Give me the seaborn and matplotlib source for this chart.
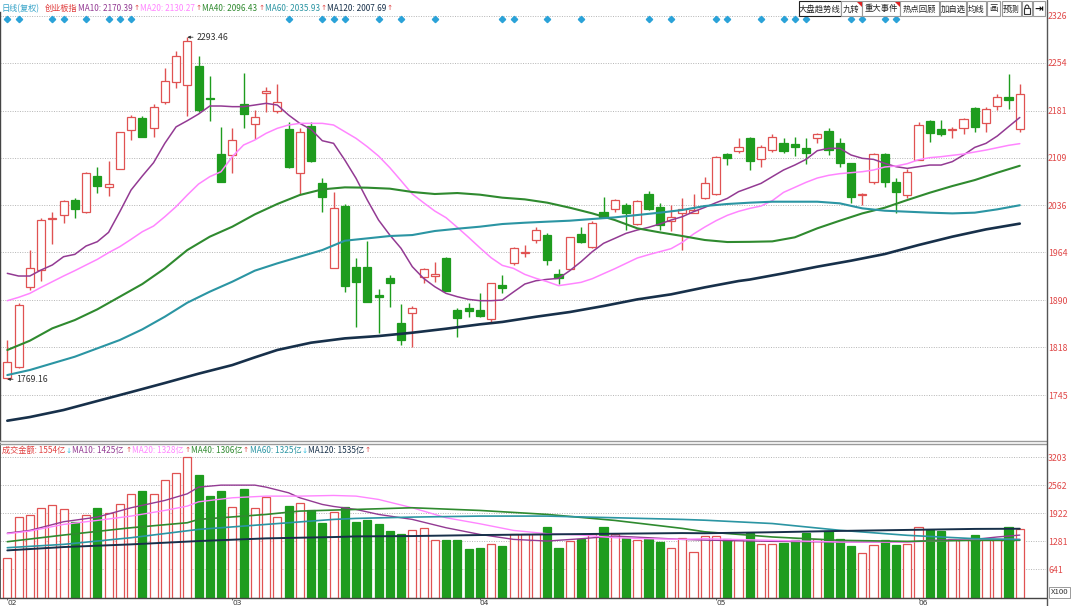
import numpy as np
import pandas as pd
import matplotlib
matplotlib.use("Agg")
import matplotlib.pyplot as plt
import matplotlib.patches as mpatches
import matplotlib.transforms as mtrans
from matplotlib.lines import Line2D
import seaborn as sns

# ---------------- data ----------------
opens = [1770.5, 1787.4, 1910, 1936.6, 2015, 2021, 2044, 2025, 2081, 2064,
         2091, 2151, 2169, 2154, 2194, 2225, 2220, 2249, 2201, 2114.4,
         2113, 2191, 2161, 2208, 2181, 2152, 2084.8, 2158, 2070.5, 1939.6,
         2034.7, 1941.7, 1941.7, 1898, 1923.8, 1855.8, 1870, 1926, 1927.8, 1955.5,
         1875, 1877.8, 1875, 1861, 1913, 1946.8, 1962, 1982.6, 1990, 1930,
         1938.6, 1991.8, 1972.4, 2026, 2029.6, 2036, 2006.6, 2053, 2032.6, 2012,
         2024.5, 2024.5, 2046.4, 2053, 2114.4, 2119.5, 2138.4, 2106.7, 2120.5, 2130.7,
         2129.7, 2123, 2138.4, 2150, 2131.8, 2100, 2051, 2071, 2114.4, 2072,
         2051, 2106, 2165.5, 2152, 2151.2, 2153.7, 2185.4, 2162.4, 2188, 2202.3,
         2152.2]
highs = [1830, 1886.5, 1967, 2016, 2026, 2044, 2047, 2087, 2095, 2104,
         2148.6, 2174, 2172, 2191, 2247, 2273, 2293.46, 2265, 2234.5, 2156,
         2154, 2239, 2182, 2217.6, 2222, 2164, 2154, 2164, 2077, 2055.6,
         2038, 1955.5, 1981.5, 1908, 1929, 1884.5, 1881, 1940, 1949.4, 1957,
         1878, 1886.5, 1900.8, 1917, 1929, 1972.4, 1975, 2002, 1994, 1937.6,
         1986.7, 2003, 2012, 2049, 2045, 2039, 2044, 2058, 2038.8, 2036,
         2046.4, 2053, 2078.6, 2112, 2115.4, 2138.4, 2140, 2128, 2145, 2138.4,
         2140, 2138.4, 2146, 2153.7, 2138.4, 2101, 2055, 2115.4, 2115.4, 2077,
         2091, 2164, 2166.5, 2166.5, 2156, 2169, 2187, 2187, 2206.4, 2237,
         2222]
lows = [1769.16, 1787, 1906, 1920, 1977, 2008, 2017, 2023.5, 2054, 2050,
        2091, 2136, 2140, 2141, 2191, 2215, 2172, 2179, 2165, 2072,
        2085, 2154, 2137, 2179, 2177, 2092.4, 2053, 2102.7, 2026, 1939.6,
        1903.4, 1849.7, 1888, 1839.5, 1880, 1821.6, 1818, 1916, 1918.7, 1904.4,
        1834.4, 1864, 1864, 1857, 1900.8, 1944, 1957, 1977.5, 1945, 1915,
        1938.6, 1977.5, 1969.8, 2016, 2026, 1998, 2005.5, 2028.6, 1998, 1997,
        1968, 2024.5, 2045.4, 2051.6, 2097.5, 2115.4, 2089.9, 2095, 2118, 2116.5,
        2111.4, 2098.6, 2130.7, 2112.9, 2094, 2038.8, 2036, 2068.4, 2064.3, 2023.5,
        2046.4, 2105, 2133.3, 2142, 2138.4, 2144.5, 2148.6, 2148.6, 2181.9, 2183,
        2148.6]
closes = [1796, 1883, 1940, 2013, 2016.5, 2042, 2029.5, 2086, 2066, 2069,
          2147.6, 2171.6, 2140, 2187, 2227, 2264.6, 2288, 2182, 2199, 2072,
          2136, 2175, 2170.6, 2210.5, 2193.6, 2095, 2148.6, 2103.7, 2048, 2031,
          1912, 1918.7, 1888, 1895.7, 1916, 1829, 1877.8, 1938.8, 1931, 1904.4,
          1862.5, 1873.7, 1866, 1917, 1908.5, 1969.8, 1964.7, 1997.9, 1952, 1923.8,
          1986.7, 1979.5, 2008, 2018, 2044, 2024.5, 2042.9, 2030, 2005.5, 2018.3,
          2029.6, 2028.6, 2069.4, 2110, 2108.3, 2125.6, 2104.2, 2124.6, 2140, 2119.5,
          2125.6, 2116.5, 2144.5, 2120.5, 2101, 2049, 2053, 2114, 2072, 2055.6,
          2087.3, 2158.9, 2147, 2145, 2152.2, 2167.5, 2155.3, 2183, 2202.3, 2197,
          2206.4]
volumes = [909, 1845, 1890, 2034, 2102, 2027, 1722, 1890, 2049, 1935,
           2125, 2353, 2429, 2353, 2687, 2839, 3212, 2793, 2307, 2436,
           2071, 2474, 2034, 2292, 1845, 2095, 2155, 1996, 1707, 1958,
           2064, 1722, 1760, 1684, 1517, 1456, 1540, 1586, 1312, 1305,
           1305, 1100, 1138, 1229, 1176, 1442, 1456, 1442, 1608, 1123,
           1290, 1328, 1442, 1608, 1442, 1350, 1305, 1328, 1267, 1123,
           1366, 1047, 1404, 1397, 1343, 1305, 1474, 1228, 1213, 1251,
           1320, 1481, 1343, 1512, 1343, 1174, 1020, 1190, 1305, 1190,
           1228, 1612, 1535, 1520, 1343, 1343, 1420, 1305, 1305, 1612,
           1554]

ma10 = [1931.5, 1927.4, 1927.4, 1936.6, 1944.3, 1957.0, 1960.6, 1973.4, 1980.0, 1994.3,
        2026.0, 2059.2, 2080.7, 2101.1, 2130.8, 2156.0, 2165.5, 2175.7, 2188.0, 2188.0,
        2187.0, 2187.0, 2189.5, 2192.1, 2189.5, 2174.2, 2161.4, 2152.2, 2134.8, 2130.8,
        2105.2, 2077.1, 2043.9, 2013.2, 1990.2, 1969.8, 1941.7, 1923.8, 1911.0, 1900.8,
        1895.7, 1891.6, 1889.6, 1889.6, 1890.6, 1903.0, 1915.1, 1920.2, 1922.3, 1923.8,
        1935.6, 1949.4, 1964.7, 1977.5, 1985.1, 1992.8, 1997.9, 2002.0, 2007.1, 2013.2,
        2018.3, 2026.0, 2032.6, 2039.8, 2046.4, 2056.7, 2063.0, 2069.4, 2079.7, 2089.9,
        2097.5, 2106.2, 2119.5, 2123.1, 2123.1, 2112.9, 2107.8, 2106.2, 2100.1, 2095.0,
        2092.4, 2095.0, 2097.5, 2097.5, 2102.7, 2112.9, 2124.6, 2130.8, 2142.0, 2156.3,
        2170.4]
ma20 = [1889.6, 1894.7, 1900.8, 1910.0, 1918.7, 1927.4, 1935.6, 1944.3, 1952.9, 1963.2,
        1972.4, 1983.6, 1995.3, 2004.0, 2018.3, 2033.7, 2051.6, 2068.4, 2079.7, 2087.3,
        2110.3, 2128.2, 2135.9, 2146.1, 2153.8, 2158.9, 2161.4, 2161.4, 2161.4, 2158.9,
        2148.6, 2138.4, 2125.6, 2111.3, 2093.5, 2073.5, 2053.1, 2039.8, 2027.0, 2016.8,
        2002.0, 1986.7, 1970.8, 1955.5, 1943.7, 1939.1, 1929.9, 1923.8, 1918.7, 1912.6,
        1915.1, 1917.7, 1923.3, 1931.0, 1938.6, 1946.8, 1955.0, 1960.1, 1964.7, 1969.3,
        1979.0, 1991.8, 2002.5, 2012.2, 2020.4, 2026.5, 2031.1, 2034.7, 2042.9, 2055.6,
        2063.3, 2071.0, 2077.6, 2081.7, 2084.3, 2085.8, 2087.3, 2089.9, 2094.5, 2096.0,
        2099.6, 2105.7, 2108.8, 2110.3, 2112.4, 2114.4, 2117.5, 2120.5, 2124.1, 2127.7,
        2130.3]
ma_even_idx = list(range(0, 91, 2))
ma40 = [1814.0, 1828.2, 1847.2, 1859.9, 1876.3, 1895.7, 1915.1, 1939.1, 1967.2, 1987.7,
        2003.0, 2021.9, 2037.8, 2051.6, 2060.2, 2063.3, 2062.8, 2061.3, 2056.2, 2053.1,
        2054.6, 2052.1, 2047.5, 2044.9, 2039.8, 2032.1, 2023.4, 2013.2, 2000.5, 1994.3,
        1988.7, 1982.6, 1979.5, 1979.8, 1980.5, 1986.7, 2000.5, 2012.2, 2023.4, 2032.1,
        2043.9, 2055.1, 2065.3, 2074.5, 2085.8, 2096.4]
ma60 = [1775.6, 1783.3, 1793.5, 1803.7, 1816.5, 1829.3, 1845.6, 1865.0, 1886.5, 1903.4,
        1918.7, 1935.6, 1946.8, 1957.0, 1967.2, 1981.5, 1985.1, 1988.7, 1990.2, 1996.4,
        1999.9, 2003.0, 2007.1, 2009.1, 2010.7, 2012.2, 2014.8, 2017.3, 2020.9, 2024.5,
        2028.6, 2034.7, 2037.8, 2039.8, 2041.3, 2041.3, 2041.3, 2038.8, 2031.1, 2027.5,
        2026.0, 2024.5, 2023.4, 2024.5, 2029.6, 2035.9]
ma120_idx = [0, 2, 5, 8, 11, 14, 17, 20, 22, 24, 27, 30, 33, 36, 39, 42, 44, 47, 50,
             53, 56, 59, 62, 65, 66, 69, 72, 75, 78, 81, 84, 87, 90]
ma120 = [1705.6, 1711.2, 1722.0, 1735.8, 1749.5, 1763.4, 1777.7, 1790.9, 1802.7, 1814.0,
         1825.2, 1831.8, 1835.4, 1840.5, 1846.6, 1853.3, 1857.0, 1865.0, 1872.2,
         1881.4, 1891.6, 1899.3, 1910.0, 1919.7, 1922.0, 1931.5, 1941.7, 1950.9, 1961.1,
         1974.9, 1987.7, 1998.9, 2007.7]

vma10_idx = [0, 2, 5, 8, 11, 14, 16, 17, 19, 22, 23, 25, 26, 28, 29, 31, 33, 36, 39, 42,
             45, 48, 51, 54, 57, 60, 62, 68, 74, 80, 82, 86, 88, 90]
vma10 = [1470, 1532, 1730, 1836, 2049, 2216, 2368, 2520, 2566, 2566, 2520, 2391, 2277,
         2125, 2079, 2011, 1897, 1783, 1593, 1441, 1327, 1289, 1342, 1403, 1365, 1327,
         1310, 1282, 1267, 1267, 1305, 1328, 1382, 1425]
vma20_idx = [0, 2, 5, 8, 11, 14, 16, 17, 20, 23, 26, 29, 31, 33, 36, 39, 42, 45, 48, 51,
             54, 57, 60, 62, 68, 74, 80, 86, 90]
vma20 = [1456, 1517, 1669, 1760, 1859, 1988, 2087, 2185, 2277, 2315, 2315, 2330, 2315,
         2239, 2049, 1821, 1684, 1532, 1456, 1426, 1365, 1342, 1327, 1342, 1305, 1267,
         1267, 1320, 1328]
vma40_idx = [0, 5, 11, 16, 17, 23, 26, 29, 31, 36, 42, 48, 54, 60, 62, 68, 74, 80, 86, 90]
vma40 = [1274, 1426, 1593, 1707, 1783, 1897, 1973, 1996, 2011, 2049, 1988, 1897, 1760,
         1578, 1500, 1382, 1305, 1282, 1305, 1306]
vma_long_idx = [0, 5, 11, 17, 23, 29, 31, 36, 42, 48, 54, 60, 62, 68, 74, 80, 86, 90]
vma60 = [1137, 1213, 1365, 1555, 1669, 1783, 1806, 1836, 1859, 1859, 1821, 1783, 1765,
         1689, 1535, 1420, 1343, 1325]
vma120 = [1076, 1152, 1213, 1289, 1350, 1380, 1395, 1403, 1426, 1441, 1456, 1471, 1467,
          1490, 1520, 1543, 1566, 1570]

price_ticks = [1745, 1818, 1890, 1964, 2036, 2109, 2181, 2254, 2326]
vol_ticks = [641, 1281, 1922, 2562, 3203]
month_idx = [0, 20, 42, 63, 81]
month_labels = ["02", "03", "04", "05", "06"]
signal_idx = [0, 1, 4, 5, 7, 9, 10, 11, 25, 28, 29, 30, 33, 35, 38, 44, 45, 48, 51,
              57, 59, 63, 64, 67, 69, 70, 71, 75, 76, 78, 79]

# ---------------- style ----------------
sns.set_theme(style="white")
plt.rcParams["font.family"] = ["Noto Sans CJK SC", "DejaVu Sans"]
plt.rcParams["axes.unicode_minus"] = False

RED = "#e05252"
GREEN = "#1e9c1e"
C_MA10 = "#933a93"
C_MA20 = "#ff85ff"
C_MA40 = "#2f8a2f"
C_MA60 = "#2b95a3"
C_MA120 = "#17304a"
TXT_RED = "#e04848"
ARR_BLUE = "#35c0e0"

W, H = 1080, 606


def fx(px):
    return px / W


def fy(py):
    return 1 - py / H


fig = plt.figure(figsize=(10.8, 6.06), dpi=100)
fig.patch.set_facecolor("white")
ax = fig.add_axes([0, fy(441), fx(1046), (441 - 12) / H])
axv = fig.add_axes([0, fy(597.5), fx(1046), (597.5 - 444) / H])

n = len(closes)
xs = np.arange(n)
x_lo, x_hi = -0.65, 92.33
ax.set_xlim(x_lo, x_hi)
ax.set_ylim(1674.5, 2332.1)
axv.set_xlim(x_lo, x_hi)
axv.set_ylim(0, 3505)

# ---------------- candles ----------------
df = pd.DataFrame({"o": opens, "h": highs, "l": lows, "c": closes, "v": volumes})
up = (df["c"] >= df["o"]).values
bw = 0.72
for i in range(n):
    col = RED if up[i] else GREEN
    ax.vlines(i, df["l"][i], df["h"][i], color=col, lw=1.0, zorder=2)
    lo_b = min(df["o"][i], df["c"][i])
    hgt = max(abs(df["c"][i] - df["o"][i]), 0.9)
    ax.bar(i, hgt, bottom=lo_b, width=bw,
           color="white" if up[i] else GREEN, edgecolor=col, linewidth=0.9, zorder=2.5)

# moving averages
sns.lineplot(x=xs, y=ma10, ax=ax, color=C_MA10, linewidth=1.1, legend=False, zorder=4)
sns.lineplot(x=xs, y=ma20, ax=ax, color=C_MA20, linewidth=1.1, legend=False, zorder=4)
sns.lineplot(x=ma_even_idx, y=ma40, ax=ax, color=C_MA40, linewidth=1.5, legend=False, zorder=4)
sns.lineplot(x=ma_even_idx, y=ma60, ax=ax, color=C_MA60, linewidth=1.5, legend=False, zorder=4)
sns.lineplot(x=ma120_idx, y=ma120, ax=ax, color=C_MA120, linewidth=1.9, legend=False, zorder=4)

# grid / ticks main
ax.set_yticks(price_ticks)
ax.set_yticklabels([str(t) for t in price_ticks])
ax.yaxis.tick_right()
ax.tick_params(axis="y", length=0, pad=1.5, labelsize=6.3, labelcolor=TXT_RED)
ax.set_xticks([])
ax.grid(axis="y", linestyle=(0, (1, 1.5)), color="#b5b5b5", linewidth=0.7, zorder=0)
ax.set_xlabel("")
ax.set_ylabel("")
for s in ["top", "right"]:
    ax.spines[s].set_visible(False)
ax.spines["left"].set_color("#444444")
ax.spines["left"].set_linewidth(1.0)
ax.spines["bottom"].set_color("#9a9a9a")
ax.spines["bottom"].set_linewidth(1.0)

# signal diamonds
trans = mtrans.blended_transform_factory(ax.transData, ax.transAxes)
ax.plot(signal_idx, [(441 - 18.5) / (441 - 12)] * len(signal_idx), linestyle="none",
        marker="D", markersize=3.2, color="#2aa2d8", transform=trans, clip_on=False, zorder=5)

# extremes
imax = int(np.argmax(highs))
imin = int(np.argmin(lows))
for idx, val in ((imax, highs[imax]), (imin, lows[imin])):
    ax.annotate(f"{val:.2f}", xy=(idx, val), xytext=(9, 0),
                textcoords="offset pixels", ha="left", va="center", fontsize=6.3,
                color="#333333",
                arrowprops=dict(arrowstyle="-|>", color="#333333", lw=0.6,
                                mutation_scale=4, shrinkA=0, shrinkB=0))

# ---------------- volume ----------------
for i in range(n):
    col = RED if up[i] else GREEN
    axv.bar(i, df["v"][i], width=bw, color="white" if up[i] else GREEN,
            edgecolor=col, linewidth=0.9, zorder=2)

sns.lineplot(x=vma10_idx, y=vma10, ax=axv, color=C_MA10, linewidth=1.0, legend=False, zorder=4)
sns.lineplot(x=vma20_idx, y=vma20, ax=axv, color=C_MA20, linewidth=1.0, legend=False, zorder=4)
sns.lineplot(x=vma40_idx, y=vma40, ax=axv, color=C_MA40, linewidth=1.2, legend=False, zorder=4)
sns.lineplot(x=vma_long_idx, y=vma60, ax=axv, color=C_MA60, linewidth=1.2, legend=False, zorder=4)
sns.lineplot(x=vma_long_idx, y=vma120, ax=axv, color=C_MA120, linewidth=1.4, legend=False, zorder=4)

axv.set_yticks(vol_ticks)
axv.set_yticklabels([str(t) for t in vol_ticks])
axv.yaxis.tick_right()
axv.tick_params(axis="y", length=0, pad=1.5, labelsize=6.3, labelcolor=TXT_RED)
axv.grid(axis="y", linestyle=(0, (1, 1.5)), color="#b5b5b5", linewidth=0.7, zorder=0)
axv.set_xticks(month_idx)
axv.set_xticklabels(month_labels)
axv.tick_params(axis="x", length=1.5, width=0.6, pad=0.0, labelsize=5.4,
                labelcolor="#333333", color="#555555", bottom=True)
for lab in axv.get_xticklabels():
    lab.set_horizontalalignment("left")
    lab.set_family(["DejaVu Sans"])
axv.set_xlabel("")
axv.set_ylabel("")
axv.spines["right"].set_visible(False)
axv.spines["top"].set_color("#9a9a9a")
axv.spines["top"].set_linewidth(1.0)
axv.spines["left"].set_color("#444444")
axv.spines["bottom"].set_color("#444444")
axv.spines["bottom"].set_linewidth(1.0)

# right vertical border
fig.add_artist(Line2D([fx(1046.5)] * 2, [0, 1], transform=fig.transFigure,
                      color="#555555", lw=1.0))

# ---------------- title rows (flowed so pieces never overlap) ----------------
renderer = fig.canvas.get_renderer()


def flow_row(py, pieces, size=5.9):
    """pieces: list of (preferred_x_px, text, color, is_arrow)"""
    cur = 0.0
    for px, s, c, is_arrow in pieces:
        x0 = max(px, cur + 0.5)
        kw = dict(fontsize=5.2, family=["DejaVu Sans"]) if is_arrow else dict(fontsize=size)
        t = fig.text(fx(x0), fy(py), s, color=c, ha="left", va="center", **kw)
        bb = t.get_window_extent(renderer)
        cur = bb.x1


main_pieces = [(1.5, "日线(复权)", "#35a3c8", False),
               (44.5, "创业板指", "#e03a3a", False),
               (78.5, "MA10: 2170.39", C_MA10, False), (132.3, "↑", TXT_RED, True),
               (138.8, "MA20: 2130.27", C_MA20, False), (192.3, "↑", TXT_RED, True),
               (199.0, "MA40: 2096.43", C_MA40, False), (252.8, "↑", TXT_RED, True),
               (259.0, "MA60: 2035.93", C_MA60, False), (312.8, "↑", TXT_RED, True),
               (319.2, "MA120: 2007.69", C_MA120, False), (378.3, "↑", TXT_RED, True)]
flow_row(8.5, main_pieces)

vol_pieces = [(1.5, "成交金额: 1554亿", "#e04040", False), (63.0, "↓", ARR_BLUE, True),
              (70.6, "MA10: 1425亿", C_MA10, False), (125.7, "↑", TXT_RED, True),
              (128.3, "MA20: 1328亿", C_MA20, False), (183.5, "↑", TXT_RED, True),
              (185.5, "MA40: 1306亿", C_MA40, False), (240.0, "↑", TXT_RED, True),
              (241.0, "MA60: 1325亿", C_MA60, False), (295.5, "↓", ARR_BLUE, True),
              (299.0, "MA120: 1535亿", C_MA120, False), (354.7, "↑", TXT_RED, True)]
flow_row(450.5, vol_pieces)

# toolbar buttons (top right)
buttons = [(799, 841, "大盘趋势线"), (841, 862, "九转"), (862, 900, "重大事件"),
           (900, 939, "热点回顾"), (940, 966, "加自选"), (967, 986, "均线"),
           (987, 1000, "画"), (1002, 1021, "预测"), (1022, 1032, ""), (1033, 1045, "")]
for k, (x0, x1, lab) in enumerate(buttons):
    ec = "#222222" if k == 0 else "#9a9a9a"
    fig.add_artist(mpatches.Rectangle((fx(x0), fy(16)), fx(x1 - x0), 15 / H,
                                      transform=fig.transFigure, facecolor="white",
                                      edgecolor=ec, linewidth=0.8))
    if lab:
        fig.text(fx((x0 + x1) / 2), fy(9), lab, fontsize=6.0, ha="center", va="center",
                 color="#222222")
for x1 in (862, 900):
    fig.add_artist(mpatches.Polygon([[fx(x1 - 5.5), fy(1.5)], [fx(x1 - 0.5), fy(1.5)],
                                     [fx(x1 - 0.5), fy(6.5)]], closed=True,
                                    transform=fig.transFigure, facecolor="#e02020",
                                    edgecolor="none"))
# lock icon
fig.add_artist(mpatches.Rectangle((fx(1024.2), fy(13.5)), fx(5.6), 5 / H,
                                  transform=fig.transFigure, facecolor="white",
                                  edgecolor="#333333", linewidth=0.8))
fig.add_artist(mpatches.Arc((fx(1027.0), fy(8.5)), fx(4.0), 7 / H, theta1=0, theta2=180,
                            transform=fig.transFigure, edgecolor="#333333", linewidth=0.8))
fig.text(fx(1039), fy(9), "⇥", fontsize=7.5, ha="center", va="center", color="#111111",
         family=["DejaVu Sans"], fontweight="bold")

# X100 box
fig.text(fx(1059.5), fy(592.5), "X100", fontsize=5.6, ha="center", va="center",
         color="#333333",
         bbox=dict(boxstyle="square,pad=0.2", facecolor="white", edgecolor="#8a8a8a",
                   linewidth=0.6))

fig.savefig("out.png", dpi=100, facecolor="white")
